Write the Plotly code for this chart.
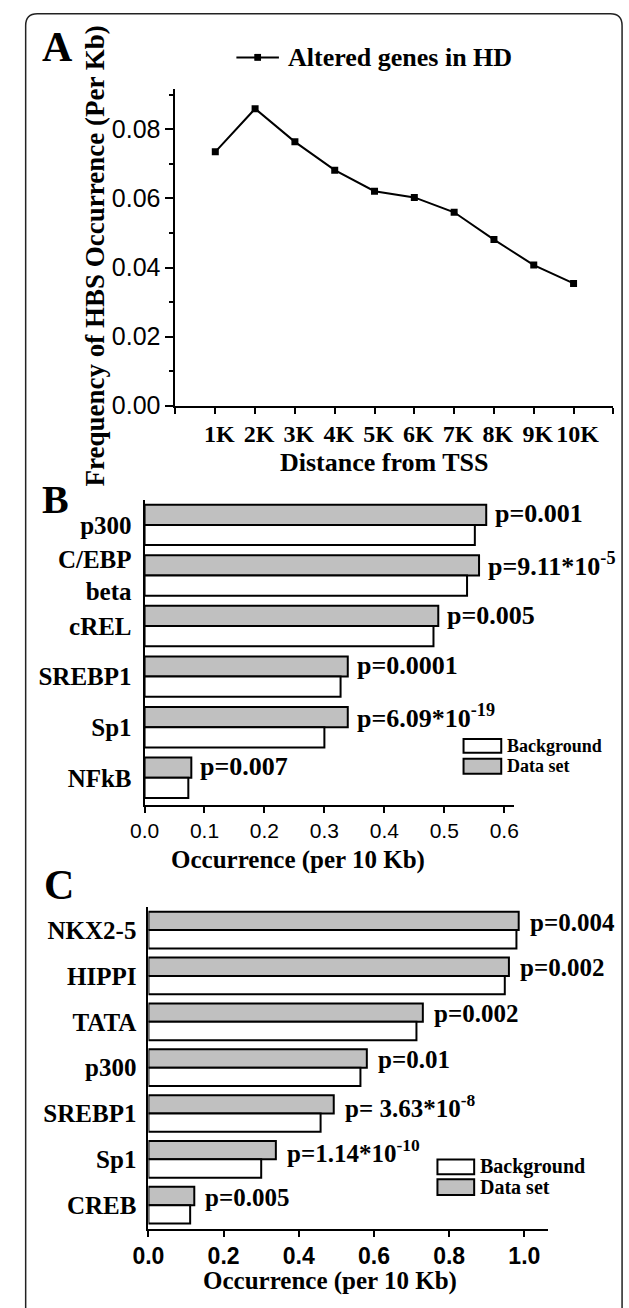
import plotly.graph_objects as go

# ---------------- data ----------------
a_distance = [1, 2, 3, 4, 5, 6, 7, 8, 9, 10]
a_ticklabels = ['1K', '2K', '3K', '4K', '5K', '6K', '7K', '8K', '9K', '10K']
a_values = [0.0735, 0.0860, 0.0764, 0.0682, 0.0621, 0.0603, 0.0560, 0.0481, 0.0407, 0.0354]

b_factors = ['p300', 'C/EBP<br>beta', 'cREL', 'SREBP1', 'Sp1', 'NFkB']
b_dataset = [0.570, 0.558, 0.490, 0.339, 0.339, 0.078]
b_background = [0.551, 0.538, 0.482, 0.327, 0.300, 0.073]
b_pvalues = ['p=0.001', 'p=9.11*10<sup>-5</sup>', 'p=0.005', 'p=0.0001',
             'p=6.09*10<sup>-19</sup>', 'p=0.007']

c_factors = ['NKX2-5', 'HIPPI', 'TATA', 'p300', 'SREBP1', 'Sp1', 'CREB']
c_dataset = [0.985, 0.959, 0.730, 0.581, 0.493, 0.339, 0.122]
c_background = [0.979, 0.948, 0.713, 0.564, 0.458, 0.300, 0.111]
c_pvalues = ['p=0.004', 'p=0.002', 'p=0.002', 'p=0.01', 'p= 3.63*10<sup>-8</sup>',
             'p=1.14*10<sup>-10</sup>', 'p=0.005']

# ---------------- layout helpers ----------------
W, H = 629, 1308
SERIF = 'Liberation Serif, Times New Roman, serif'
SANS = 'Liberation Sans, Arial, sans-serif'
GREY = '#c0c0c0'


def X(px):
    return px / W


def Y(py):
    return 1 - py / H


fig = go.Figure()

# Panel A line
fig.add_trace(go.Scatter(
    x=a_distance, y=a_values, mode='lines+markers',
    line=dict(color='black', width=2),
    marker=dict(symbol='square', size=7, color='black'),
    xaxis='x', yaxis='y', showlegend=False))

# Panel B bars (Data set first -> drawn on top within group on reversed axis)
fig.add_trace(go.Bar(y=b_factors, x=b_dataset, orientation='h', name='Data set',
                     marker=dict(color=GREY, line=dict(color='black', width=2)),
                     xaxis='x2', yaxis='y2', showlegend=False))
fig.add_trace(go.Bar(y=b_factors, x=b_background, orientation='h', name='Background',
                     marker=dict(color='white', line=dict(color='black', width=2)),
                     xaxis='x2', yaxis='y2', showlegend=False))

# Panel C bars
fig.add_trace(go.Bar(y=c_factors, x=c_dataset, orientation='h', name='Data set',
                     marker=dict(color=GREY, line=dict(color='black', width=2)),
                     xaxis='x3', yaxis='y3', showlegend=False))
fig.add_trace(go.Bar(y=c_factors, x=c_background, orientation='h', name='Background',
                     marker=dict(color='white', line=dict(color='black', width=2)),
                     xaxis='x3', yaxis='y3', showlegend=False))

axis_common = dict(showline=True, linecolor='black', linewidth=2, showgrid=False,
                   zeroline=False, ticks='outside', tickcolor='black', tickwidth=2)

fig.update_layout(
    width=W, height=H,
    margin=dict(l=0, r=0, t=0, b=0, pad=0),
    paper_bgcolor='white', plot_bgcolor='white',
    barmode='group', bargap=0.2, bargroupgap=0,
    # Panel A
    xaxis=dict(domain=[X(165), X(618)], range=[0, 11], anchor='y',
               tickvals=a_distance, ticktext=a_ticklabels,
               ticklen=6, tickangle=0, ticklabelshift=4,
               minor=dict(tick0=0, dtick=1, ticklen=6, tickwidth=2, tickcolor='black', ticks='outside'),
               tickfont=dict(family=SERIF, size=24, color='black', weight='bold'),
               **axis_common),
    yaxis=dict(domain=[Y(410), Y(90)], range=[0, 0.0917], anchor='x',
               tickvals=[0, 0.02, 0.04, 0.06, 0.08],
               ticktext=['0.00', '0.02', '0.04', '0.06', '0.08'],
               ticklen=8, minor=dict(dtick=0.01, ticklen=4, tickwidth=2, tickcolor='black', ticks='outside'),
               tickfont=dict(family=SANS, size=25, color='black'),
               **axis_common),
    # Panel B
    xaxis2=dict(domain=[X(133), X(515)], range=[0, 0.616], anchor='y2',
                tickvals=[0, 0.1, 0.2, 0.3, 0.4, 0.5, 0.6],
                ticktext=['0.0', '0.1', '0.2', '0.3', '0.4', '0.5', '0.6'],
                ticklen=6, tickangle=0, tickfont=dict(family=SANS, size=21, color='black'),
                **axis_common),
    yaxis2=dict(domain=[Y(814), Y(505)], anchor='x2', autorange='reversed',
                showline=True, linecolor='black', linewidth=2, showgrid=False,
                zeroline=False, ticks='', ticklabelstandoff=6,
                tickfont=dict(family=SERIF, size=25, color='black', weight='bold')),
    # Panel C
    xaxis3=dict(domain=[X(137), X(550)], range=[0, 1.062], anchor='y3',
                tickvals=[0, 0.2, 0.4, 0.6, 0.8, 1.0],
                ticktext=['0.0', '0.2', '0.4', '0.6', '0.8', '1.0'],
                ticklen=6, tickangle=0,
                tickfont=dict(family=SANS, size=23, color='black', weight='bold'),
                **axis_common),
    yaxis3=dict(domain=[Y(1242), Y(917)], anchor='x3', autorange='reversed',
                showline=True, linecolor='black', linewidth=2, showgrid=False,
                zeroline=False, ticks='', ticklabelstandoff=5,
                tickfont=dict(family=SERIF, size=25, color='black', weight='bold')),
)

annotations = []
shapes = []


def txt(text, x, y, size, family=SERIF, xanchor='center', yanchor='middle', angle=0, bold=True):
    annotations.append(dict(text=text, x=X(x), y=Y(y), xref='paper', yref='paper',
                            xanchor=xanchor, yanchor=yanchor, showarrow=False,
                            textangle=angle,
                            font=dict(family=family, size=size, color='black',
                                      weight='bold' if bold else 'normal')))


# Panel letters
txt('A', 43, 48, 42)
txt('B', 41, 505, 40)
txt('C', 45, 895, 42)

# Panel A texts
txt('Frequency of HBS Occurrence (Per Kb)', 82, 259, 27, angle=-90)
txt('Distance from TSS', 381, 468, 26)
txt('Altered genes in HD', 279, 58, 26, xanchor='left')
shapes.append(dict(type='line', xref='paper', yref='paper', x0=X(228), x1=X(272), y0=Y(58), y1=Y(58),
                   line=dict(color='black', width=2)))
shapes.append(dict(type='rect', xref='paper', yref='paper', x0=X(246.5), x1=X(253.5), y0=Y(61.5), y1=Y(54.5),
                   fillcolor='black', line=dict(width=0)))

# Panel B texts
txt('Occurrence (per 10 Kb)', 292, 869, 25)
for f, v, p in zip(b_factors, b_dataset, b_pvalues):
    annotations.append(dict(text=p, x=v, y=f, xref='x2', yref='y2', xanchor='left', yanchor='middle',
                            xshift=7, yshift=11, showarrow=False,
                            font=dict(family=SERIF, size=26, color='black', weight='bold')))

# Panel C texts
txt('Occurrence (per 10 Kb)', 325, 1295, 25)
for f, v, p in zip(c_factors, c_dataset, c_pvalues):
    annotations.append(dict(text=p, x=v, y=f, xref='x3', yref='y3', xanchor='left', yanchor='middle',
                            xshift=9, yshift=8, showarrow=False,
                            font=dict(family=SERIF, size=25, color='black', weight='bold')))


# custom legends for B and C
def legend(x0, x1, ys, size):
    (bg0, bg1), (ds0, ds1) = ys
    shapes.append(dict(type='rect', xref='paper', yref='paper', x0=X(x0), x1=X(x1), y0=Y(bg1), y1=Y(bg0),
                       fillcolor='white', line=dict(color='black', width=2)))
    shapes.append(dict(type='rect', xref='paper', yref='paper', x0=X(x0), x1=X(x1), y0=Y(ds1), y1=Y(ds0),
                       fillcolor=GREY, line=dict(color='black', width=2)))
    txt('Background', x1 + 4, (bg0 + bg1) / 2, size, xanchor='left')
    txt('Data set', x1 + 4, (ds0 + ds1) / 2, size, xanchor='left')


legend(463, 502, [(747, 761), (767, 782)], 18)
legend(436, 474, [(1172, 1187), (1192, 1208)], 20)

# outer rounded frame
L, T, R, B_, r = 10, 14, 627, 1330, 12
path = (f"M {X(L)},{Y(T + r)} Q {X(L)},{Y(T)} {X(L + r)},{Y(T)} "
        f"L {X(R - r)},{Y(T)} Q {X(R)},{Y(T)} {X(R)},{Y(T + r)} "
        f"L {X(R)},{Y(B_)} L {X(L)},{Y(B_)} Z")
shapes.append(dict(type='path', xref='paper', yref='paper', path=path,
                   line=dict(color='#222222', width=1.5), layer='below'))

fig.update_layout(annotations=annotations, shapes=shapes)
fig.write_html('out.html', config={'displayModeBar': False},
               post_script="document.body.style.margin='0';document.body.style.overflow='hidden';")
